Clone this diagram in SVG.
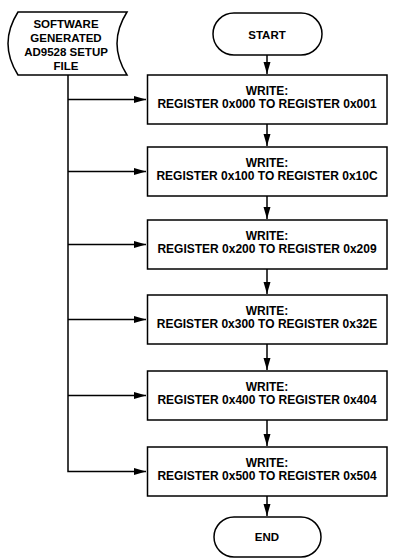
<svg xmlns="http://www.w3.org/2000/svg" width="402" height="558" viewBox="0 0 402 558">
<defs>
<marker id="ah" markerUnits="userSpaceOnUse" markerWidth="12" markerHeight="8" refX="12" refY="4" orient="auto">
<path d="M0,0.5 L12,4 L0,7.5 z" fill="#000"/>
</marker>
<style>
.shape{fill:#fff;stroke:#000;stroke-width:1.5}
.conn{fill:none;stroke:#000;stroke-width:1.5}
text{font-family:"Liberation Sans",Arial,sans-serif;font-weight:bold;fill:#000;text-anchor:middle}
.t1{font-size:11.5px}
.t2{font-size:12px}
</style>
</defs>
<rect width="402" height="558" fill="#fff"/>
<g id="connectors">
<path class="conn" d="M68,75 V471.5 H146" marker-end="url(#ah)"/>
<path class="conn" d="M68,99.5 H146" marker-end="url(#ah)"/>
<path class="conn" d="M68,171.5 H146" marker-end="url(#ah)"/>
<path class="conn" d="M68,244.5 H146" marker-end="url(#ah)"/>
<path class="conn" d="M68,319.5 H146" marker-end="url(#ah)"/>
<path class="conn" d="M68,395.5 H146" marker-end="url(#ah)"/>
<path class="conn" d="M267,55 V74" marker-end="url(#ah)"/>
<path class="conn" d="M267,124 V146" marker-end="url(#ah)"/>
<path class="conn" d="M267,196 V219" marker-end="url(#ah)"/>
<path class="conn" d="M267,269 V294" marker-end="url(#ah)"/>
<path class="conn" d="M267,344 V370" marker-end="url(#ah)"/>
<path class="conn" d="M267,420 V446" marker-end="url(#ah)"/>
<path class="conn" d="M267,496 V516" marker-end="url(#ah)"/>
</g>
<g id="setupfile">
<path class="shape" d="M18,12 L127,12 Q107,43.5 127,75 L18,75 Q-2,43.5 18,12 z"/>
<text class="t1" x="66" y="28">SOFTWARE</text>
<text class="t1" x="66" y="41.8">GENERATED</text>
<text class="t1" x="66" y="55.8">AD9528 SETUP</text>
<text class="t1" x="66" y="69.8">FILE</text>
</g>
<g id="start">
<rect class="shape" x="213" y="13" width="109" height="42" rx="21" ry="21"/>
<text class="t1" x="267" y="38.5">START</text>
</g>
<g id="box1">
<rect class="shape" x="147.5" y="75" width="239.5" height="49"/>
<text class="t2" x="267" y="94.5">WRITE:</text>
<text class="t2" x="267" y="107.5">REGISTER 0x000 TO REGISTER 0x001</text>
</g>
<g id="box2">
<rect class="shape" x="147.5" y="147" width="239.5" height="49"/>
<text class="t2" x="267" y="166.5">WRITE:</text>
<text class="t2" x="267" y="179.5">REGISTER 0x100 TO REGISTER 0x10C</text>
</g>
<g id="box3">
<rect class="shape" x="147.5" y="220" width="239.5" height="49"/>
<text class="t2" x="267" y="239.5">WRITE:</text>
<text class="t2" x="267" y="252.5">REGISTER 0x200 TO REGISTER 0x209</text>
</g>
<g id="box4">
<rect class="shape" x="147.5" y="295" width="239.5" height="49"/>
<text class="t2" x="267" y="314.5">WRITE:</text>
<text class="t2" x="267" y="327.5">REGISTER 0x300 TO REGISTER 0x32E</text>
</g>
<g id="box5">
<rect class="shape" x="147.5" y="371" width="239.5" height="49"/>
<text class="t2" x="267" y="390.5">WRITE:</text>
<text class="t2" x="267" y="403.5">REGISTER 0x400 TO REGISTER 0x404</text>
</g>
<g id="box6">
<rect class="shape" x="147.5" y="447" width="239.5" height="49"/>
<text class="t2" x="267" y="466.5">WRITE:</text>
<text class="t2" x="267" y="479.5">REGISTER 0x500 TO REGISTER 0x504</text>
</g>
<g id="end">
<rect class="shape" x="214" y="517" width="107" height="40" rx="20" ry="20"/>
<text class="t1" x="267" y="541">END</text>
</g>
</svg>
